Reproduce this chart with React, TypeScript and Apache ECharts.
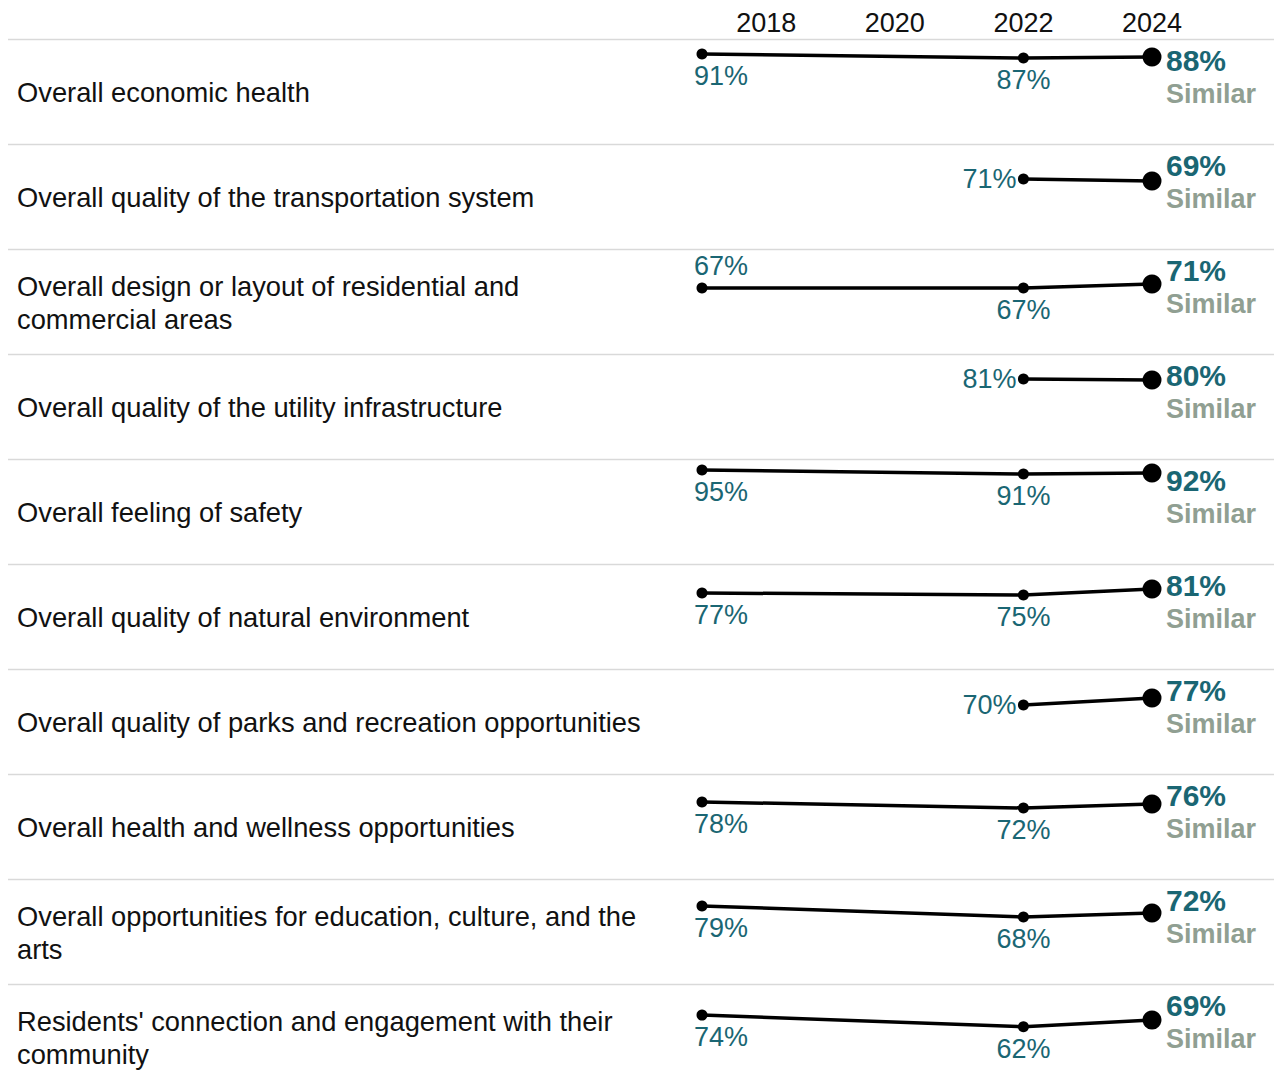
import React, { useEffect, useRef } from "react";
import * as echarts from "echarts";

const categories: string[] = [
  "Overall economic health",
  "Overall quality of the transportation system",
  "Overall design or layout of residential and\ncommercial areas",
  "Overall quality of the utility infrastructure",
  "Overall feeling of safety",
  "Overall quality of natural environment",
  "Overall quality of parks and recreation opportunities",
  "Overall health and wellness opportunities",
  "Overall opportunities for education, culture, and the\narts",
  "Residents' connection and engagement with their\ncommunity",
];

const years: number[] = [2017, 2022, 2024];
const values2017: (number | null)[] = [91, null, 67, null, 95, 77, null, 78, 79, 74];
const values2022: number[] = [87, 71, 67, 81, 91, 75, 70, 72, 68, 62];
const values2024: number[] = [88, 69, 71, 80, 92, 81, 77, 76, 72, 69];
const comparison: string[] = Array(10).fill("Similar");
// label placement for the 2017 and 2022 values
const place2017: string[] = ["below", "", "above", "", "below", "below", "", "below", "below", "below"];
const place2022: string[] = ["below", "left", "below", "left", "below", "below", "left", "below", "below", "below"];
const headerYears: number[] = [2018, 2020, 2022, 2024];

const FONT = '"Liberation Sans", Arial, sans-serif';
const TEAL = "#1a6673";
const GREY = "#909f92";
const W = 1274;
const H = 1087;
const TOP0 = 39;
const ROW_H = 105;
const PLOT_LEFT = 702;
const PLOT_W = 450;

function labelFor(place: string, first: boolean) {
  const base: any = {
    show: true,
    position: "inside",
    color: TEAL,
    fontFamily: FONT,
    fontSize: 27,
    formatter: (p: any) => `${p.value[1]}%`,
    verticalAlign: "middle",
  };
  if (place === "left") {
    return { ...base, align: "right", offset: [-7, 0] };
  }
  const dy = place === "above" ? -22 : 22;
  if (first) return { ...base, align: "left", offset: [-8, dy] };
  return { ...base, align: "center", offset: [0, dy] };
}

export default function App() {
  const ref = useRef<HTMLDivElement>(null);
  useEffect(() => {
    document.body.style.margin = "0";
    const chart = echarts.init(ref.current!, undefined, { renderer: "svg" });
    const grids: any[] = [];
    const xAxes: any[] = [];
    const yAxes: any[] = [];
    const series: any[] = [];
    const graphics: any[] = [];

    categories.forEach((cat, i) => {
      const top = TOP0 + i * ROW_H;
      grids.push({ left: PLOT_LEFT, width: PLOT_W, top: top + 1, height: ROW_H });
      xAxes.push({
        gridIndex: i,
        type: "value",
        min: 2017,
        max: 2024,
        interval: 1,
        position: "top",
        show: i === 0,
        axisLine: { show: false },
        axisTick: { show: false },
        splitLine: { show: false },
        axisLabel: {
          show: i === 0,
          margin: 4,
          color: "#111",
          fontFamily: FONT,
          fontSize: 27,
          formatter: (v: number) => (headerYears.includes(v) ? String(v) : ""),
        },
      });
      yAxes.push({ gridIndex: i, type: "value", min: 0, max: 105, show: false });

      const data: any[] = [];
      if (values2017[i] != null) {
        data.push({
          value: [years[0], values2017[i]],
          symbolSize: 11,
          label: labelFor(place2017[i], true),
        });
      }
      data.push({
        value: [years[1], values2022[i]],
        symbolSize: 11,
        label: labelFor(place2022[i], false),
      });
      data.push({
        value: [years[2], values2024[i]],
        symbolSize: 19,
        label: { show: false },
      });
      series.push({
        type: "line",
        xAxisIndex: i,
        yAxisIndex: i,
        data,
        symbol: "circle",
        lineStyle: { color: "#000", width: 3.5 },
        itemStyle: { color: "#000" },
        emphasis: { disabled: true },
        z: 3,
      });

      graphics.push({
        type: "line",
        shape: { x1: 8, y1: top + 0.5, x2: W, y2: top + 0.5 },
        style: { stroke: "#d9d9d9", lineWidth: 1.5 },
      });
      graphics.push({
        type: "text",
        x: 17,
        y: top + 53.5,
        style: {
          text: cat,
          fill: "#111",
          fontSize: 27.3,
          fontFamily: FONT,
          lineHeight: 33,
          verticalAlign: "middle",
          align: "left",
        },
      });
      graphics.push({
        type: "text",
        x: 1166,
        y: top + 21.5,
        style: {
          text: `${values2024[i]}%`,
          fill: TEAL,
          fontSize: 30,
          fontWeight: "bold",
          fontFamily: FONT,
          verticalAlign: "middle",
          align: "left",
        },
      });
      graphics.push({
        type: "text",
        x: 1166,
        y: top + 55,
        style: {
          text: comparison[i],
          fill: GREY,
          fontSize: 27,
          fontWeight: "bold",
          fontFamily: FONT,
          verticalAlign: "middle",
          align: "left",
        },
      });
    });

    chart.setOption({
      animation: false,
      backgroundColor: "#fff",
      grid: grids,
      xAxis: xAxes,
      yAxis: yAxes,
      series,
      graphic: graphics,
    });
    return () => chart.dispose();
  }, []);
  return <div ref={ref} style={{ width: W, height: H }} />;
}
